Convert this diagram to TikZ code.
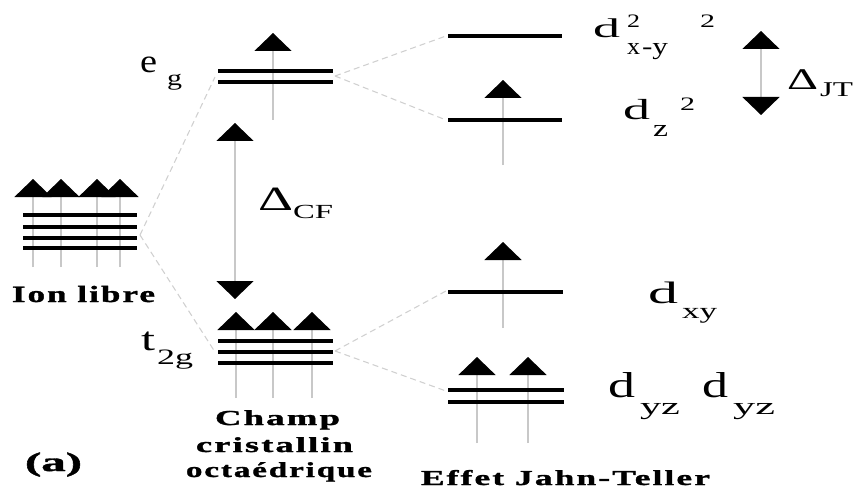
\documentclass[tikz,border=0pt]{standalone}
\usepackage{fontspec}
\setmainfont{Liberation Serif}
\newfontfamily\heavy[FakeBold=1.2]{Liberation Serif Bold}
\usetikzlibrary{arrows.meta}
\definecolor{gline}{HTML}{C8C8C8}
\definecolor{dline}{HTML}{D0D0D0}
\newlength\pxu
\setlength\pxu{0.75pt}
% label: name, left x, baseline y, font size (pt), target width (px), text
\newcommand{\lab}[6]{\node[lbl] (#1) at (#2,#3) {\fontsize{#4}{#4}\selectfont\resizebox{#5\pxu}{\height}{#6}};}
\newcommand{\blab}[6]{\node[lbl] (#1) at (#2,#3) {\fontsize{#4}{#4}\selectfont\heavy\addfontfeature{LetterSpace=6}\resizebox{#5\pxu}{\height}{#6}};}
\tikzset{
  lbl/.style={inner sep=0pt, outer sep=0pt, anchor=base west},
  lev/.style={line width=3pt, black},
  spin/.style={draw=gline, line width=1.1pt, ->},
  dspin/.style={draw=gline, line width=1.1pt, <->},
  dsh/.style={draw=dline, line width=0.8pt, dash pattern=on 4.5pt off 3pt},
}
\begin{document}
\begin{tikzpicture}[x=0.75pt, y=-0.75pt,
  >={Triangle[width=27.75pt,length=13.5pt,color=black]}]
\useasboundingbox (0,0) rectangle (861,492);

% ---------- Ion libre ----------
\foreach \xx in {33,61,97,120} \draw[spin] (\xx,267) -- (\xx,179);
\foreach \yy in {215,227,238,248} \draw[lev] (23,\yy) -- (137,\yy);
\blab{ion}{12}{302}{17.5}{143}{Ion libre}
\node[lbl] (a) at (25,471) {\fontsize{20}{20}\selectfont\heavy\resizebox{57\pxu}{\height}{(a)}};

% ---------- Octahedral field ----------
\draw[spin] (273,120) -- (273,33);
\foreach \yy in {71,82} \draw[lev] (218,\yy) -- (333,\yy);
\draw[dspin] (235,123) -- (235,299);
\foreach \xx in {236,273,312} \draw[spin] (\xx,398) -- (\xx,312);
\foreach \yy in {341,352,363} \draw[lev] (218,\yy) -- (333,\yy);

\lab{e}{140}{73}{24.75}{17}{e}
\lab{eg}{167}{85}{16.5}{15}{g}
\lab{t}{141}{350}{24.75}{14}{t}
\lab{t2g}{157}{364}{16.5}{36}{2g}
\lab{dcf}{258}{210}{25.5}{35}{Δ}
\lab{cf}{293}{219}{15}{40}{CF}

\blab{champ}{215}{425}{16}{125}{Champ}
\blab{crist}{196}{452}{16}{157}{cristallin}
\blab{octa}{186}{477}{16}{186}{octaédrique}

% ---------- Jahn-Teller ----------
\draw[lev] (448,36) -- (562,36);
\draw[spin] (503,165) -- (503,80);
\draw[lev] (448,120) -- (562,120);
\draw[dspin] (761,31) -- (761,115);
\draw[spin] (503,328) -- (503,242);
\draw[lev] (448,292) -- (563,292);
\foreach \xx in {477,528} \draw[spin] (\xx,443) -- (\xx,357);
\foreach \yy in {390,402} \draw[lev] (448,\yy) -- (564,\yy);

\lab{dx}{593}{38}{20.25}{27}{d}
\lab{dxs1}{627}{28}{14.25}{13}{2}
\lab{dxx}{627}{55}{18}{13}{x}
\lab{dxy2}{642}{55}{18}{26}{-y}
\lab{dxs2}{700}{28}{14.25}{15}{2}

\lab{dz}{623}{120}{21.75}{27}{d}
\lab{dzz}{653}{137}{18}{15}{z}
\lab{dzs}{680}{110}{14.25}{15}{2}

\lab{djt}{787}{90}{22.5}{31}{Δ}
\lab{jt}{820}{97}{15.75}{33}{JT}

\lab{dxyd}{648}{303}{23.25}{30}{d}
\lab{dxyxy}{682}{318}{16.5}{35}{xy}

\lab{dyza}{608}{397}{27}{27}{d}
\lab{yza}{640}{414}{18}{40}{yz}
\lab{dyzb}{702}{397}{27}{26}{d}
\lab{yzb}{733}{414}{18}{42}{yz}

\blab{jtl}{421}{485}{16}{289}{Effet Jahn-Teller}

% ---------- dashed correlation lines ----------
\coordinate (ionR) at (140,235);
\coordinate (egL) at (215,77);
\coordinate (egR) at (335,76);
\coordinate (t2gL) at (215,352);
\coordinate (t2gR) at (335,351);
\coordinate (x2L) at (446,36);
\coordinate (z2L) at (446,120);
\coordinate (xyL) at (446,291);
\coordinate (yzL) at (446,391);
\draw[dsh] (ionR) -- (egL);
\draw[dsh] (ionR) -- (t2gL);
\draw[dsh] (egR) -- (x2L);
\draw[dsh] (egR) -- (z2L);
\draw[dsh] (t2gR) -- (xyL);
\draw[dsh] (t2gR) -- (yzL);
\end{tikzpicture}
\end{document}
